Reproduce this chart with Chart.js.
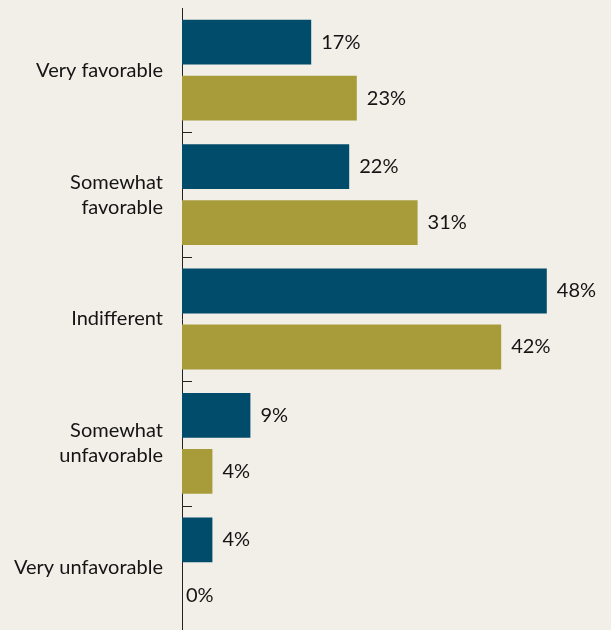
<!DOCTYPE html>
<html>
<head>
<meta charset="utf-8">
<script src="https://cdn.jsdelivr.net/npm/chart.js@4"></script>
<style>
  html, body { margin: 0; padding: 0; background: #f2efe8; }
  #wrap { width: 611px; height: 630px; }
</style>
</head>
<body>
<div id="wrap"><canvas id="bar-chart"></canvas></div>
<script>
// Categories and the two series (percent)
var categories = [
  ["Very favorable"],
  ["Somewhat", "favorable"],
  ["Indifferent"],
  ["Somewhat", "unfavorable"],
  ["Very unfavorable"]
];
var seriesA = [17, 22, 48, 9, 4];
var seriesB = [23, 31, 42, 4, 0];

var textColor = "#141414";
var fontFamily = "Lato, 'Open Sans', sans-serif";

// Value labels drawn to the right of each bar
var valueLabels = {
  id: "valueLabels",
  afterDatasetsDraw: function (chart) {
    var ctx = chart.ctx;
    ctx.save();
    ctx.fillStyle = textColor;
    ctx.font = "20px " + fontFamily;
    ctx.textBaseline = "middle";
    ctx.textAlign = "left";
    chart.data.datasets.forEach(function (ds, i) {
      chart.getDatasetMeta(i).data.forEach(function (bar, j) {
        var v = ds.data[j];
        var off = v > 0 ? 10 : 4;
        ctx.fillText(v + "%", bar.x + off, bar.y);
      });
    });
    ctx.restore();
  }
};

// Category labels and short tick marks between categories
var categoryAxis = {
  id: "categoryAxis",
  afterDraw: function (chart) {
    var y = chart.scales.y;
    var ctx = chart.ctx;
    var step = (y.bottom - y.top) / categories.length;
    ctx.save();
    ctx.strokeStyle = "#222";
    ctx.lineWidth = 1;
    ctx.beginPath();
    for (var i = 1; i < categories.length; i++) {
      var py = Math.round(y.top + step * i) + 0.5;
      ctx.moveTo(y.right, py);
      ctx.lineTo(y.right + 10, py);
    }
    ctx.stroke();

    ctx.fillStyle = textColor;
    ctx.font = "20px " + fontFamily;
    ctx.textAlign = "right";
    ctx.textBaseline = "middle";
    var lineH = 25;
    categories.forEach(function (lines, i) {
      var cy = y.getPixelForValue(i);
      var y0 = cy - (lines.length - 1) * lineH / 2;
      lines.forEach(function (t, k) {
        ctx.fillText(t, y.right - 19, y0 + k * lineH);
      });
    });
    ctx.restore();
  }
};

var canvas = document.getElementById("bar-chart");

var chart = new Chart(canvas, {
  type: "bar",
  data: {
    labels: categories.map(function (l) { return l.join(" "); }),
    datasets: [
      {
        data: seriesA,
        backgroundColor: "#014b6b",
        categoryPercentage: 0.9,
        barPercentage: 0.8
      },
      {
        data: seriesB,
        backgroundColor: "#a89c3a",
        categoryPercentage: 0.9,
        barPercentage: 0.8
      }
    ]
  },
  options: {
    indexAxis: "y",
    responsive: true,
    maintainAspectRatio: false,
    animation: false,
    layout: { padding: { top: 8, right: 49, bottom: 0, left: 0 } },
    plugins: {
      legend: { display: false },
      tooltip: { enabled: false }
    },
    scales: {
      x: {
        display: false,
        min: 0,
        max: 50
      },
      y: {
        grid: { display: false, drawTicks: false },
        border: { display: true, color: "#222", width: 1 },
        ticks: { display: false },
        afterFit: function (scale) { scale.width = 182; }
      }
    }
  },
  plugins: [valueLabels, categoryAxis]
});
</script>
</body>
</html>
